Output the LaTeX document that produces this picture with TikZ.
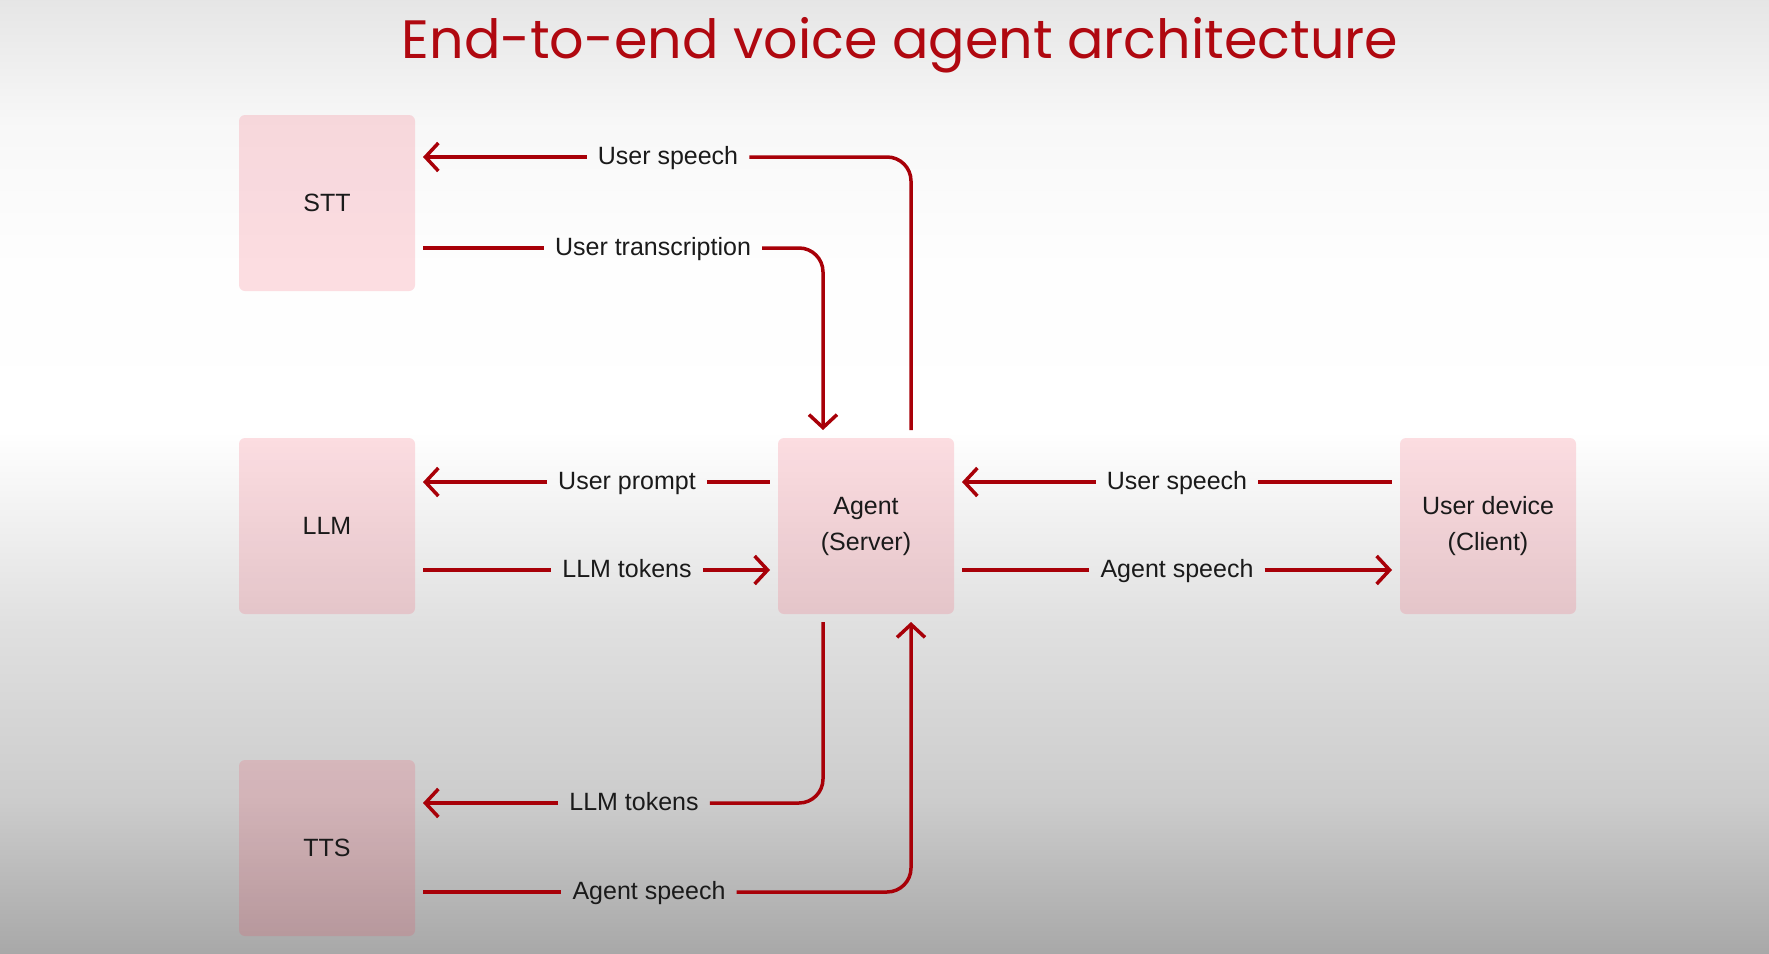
\documentclass[tikz,border=0pt]{standalone}
\usepackage{fontspec}
\setmainfont{Liberation Sans}
\newfontfamily\titlefont{Poppins}
\usetikzlibrary{arrows.meta,positioning}
\definecolor{arrow_red}{RGB}{168,0,8}
\definecolor{title_red}{RGB}{176,8,16}
\definecolor{box_pink}{RGB}{243,50,77}
\definecolor{label_black}{RGB}{26,26,26}

\tikzset{
  block/.style={rectangle, rounded corners=6pt, minimum size=176pt,
    fill=box_pink, fill opacity=0.16, text opacity=1, text=label_black,
    font=\fontsize{25}{36}\selectfont, align=center, outer sep=8pt},
  flow/.style={draw=arrow_red, line width=3.5pt, rounded corners=24pt},
  tip/.style={-{Straight Barb[length=13pt,width=28pt]}},
  tag/.style={font=\fontsize{25}{30}\selectfont, text=label_black,
    inner xsep=11pt, inner ysep=0pt, text height=18pt, text depth=4pt}
}

\begin{document}
\begin{tikzpicture}[x=1pt,y=-1pt]
    % Background
    \shade[top color=black!10, bottom color=black!3] (0,0) rectangle (1769,122);
    \shade[top color=black!3, bottom color=black!0.5] (0,121) rectangle (1769,262);
    \shade[top color=black!0.5, bottom color=white] (0,261) rectangle (1769,432);
    \shade[top color=white, bottom color=black!12] (0,431) rectangle (1769,622);
    \shade[top color=black!12, bottom color=black!20] (0,621) rectangle (1769,802);
    \shade[top color=black!20, bottom color=black!34] (0,801) rectangle (1769,953);
    \useasboundingbox (0,0) rectangle (1769,953);

    % Title
    \node[anchor=base, font=\titlefont\fontsize{54}{64}\selectfont, text=title_red]
        (title) at (900,58) {End-to-end voice agent architecture};

    % Blocks
    \node[block] (stt) at (327,203) {STT};
    \node[block] (llm) at (327,526) {LLM};
    \node[block] (tts) at (327,848) {TTS};
    \node[block] (agent) at (866,526) {Agent\\(Server)};
    \node[block] (device) at (1488,526) {User device\\(Client)};

    % Labels
    \node[tag] (sttIn) at (668,157) {User speech};
    \node[tag] (sttOut) at (653,248) {User transcription};
    \node[tag] (llmIn) at (627,482) {User prompt};
    \node[tag] (llmOut) at (627,570) {LLM tokens};
    \node[tag] (devIn) at (1177,482) {User speech};
    \node[tag] (devOut) at (1177,570) {Agent speech};
    \node[tag] (ttsIn) at (634,803) {LLM tokens};
    \node[tag] (ttsOut) at (649,892) {Agent speech};

    % STT
    \draw[flow] ([xshift=45pt]agent.north) |- (sttIn.east);
    \draw[flow,tip] (sttIn.west) -- (sttIn.west -| stt.east);
    \draw[flow] (stt.east |- sttOut.west) -- (sttOut.west);
    \draw[flow,tip] (sttOut.east) -| ([xshift=-43pt]agent.north);

    % LLM
    \draw[flow,tip] (llmIn.west) -- (llmIn.west -| llm.east);
    \draw[flow] (llmIn.east) -- (llmIn.east -| agent.west);
    \draw[flow] (llm.east |- llmOut.west) -- (llmOut.west);
    \draw[flow,tip] (llmOut.east) -- (llmOut.east -| agent.west);

    % User device
    \draw[flow,tip] (devIn.west) -- (devIn.west -| agent.east);
    \draw[flow] (devIn.east) -- (devIn.east -| device.west);
    \draw[flow] (agent.east |- devOut.west) -- (devOut.west);
    \draw[flow,tip] (devOut.east) -- (devOut.east -| device.west);

    % TTS
    \draw[flow] ([xshift=-43pt]agent.south) |- (ttsIn.east);
    \draw[flow,tip] (ttsIn.west) -- (ttsIn.west -| tts.east);
    \draw[flow] (tts.east |- ttsOut.west) -- (ttsOut.west);
    \draw[flow,tip] (ttsOut.east) -| ([xshift=45pt]agent.south);
\end{tikzpicture}
\end{document}
